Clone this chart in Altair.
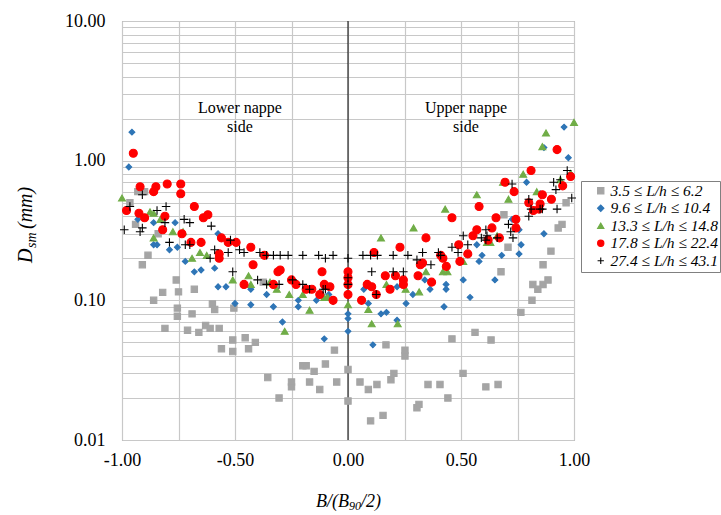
import altair as alt
import pandas as pd

series_labels = [
    "3.5 ≤ L/h ≤ 6.2",
    "9.6 ≤ L/h ≤ 10.4",
    "13.3 ≤ L/h ≤ 14.8",
    "17.8 ≤ L/h ≤ 22.4",
    "27.4 ≤ L/h ≤ 43.1",
]

gray_x = [-0.965, -0.93, -0.90, -0.94, -0.84, -0.91, -0.885, -0.86, -0.82, -0.76, -0.75, -0.68,
          -0.755, -0.755, -0.69, -0.81, -0.71, -0.66, -0.63, -0.61, -0.57, -0.60, -0.59, -0.505,
          -0.56, -0.51, -0.51, -0.455, -0.44, -0.41, -0.375, -0.355, -0.305, -0.25, -0.25, -0.20,
          -0.185, -0.15, -0.17, -0.125, -0.10, -0.05, -0.06,
          0.0, 0.0, 0.053, 0.09, 0.10, 0.128, 0.155, 0.168, 0.19, 0.203, 0.252, 0.252, 0.305,
          0.314, 0.354, 0.407, 0.442, 0.46, 0.509, 0.562, 0.61, 0.633, 0.664, 0.677, 0.708,
          0.765, 0.814, 0.818, 0.84, 0.863, 0.885, 0.863, 0.898, 0.69, 0.93, 0.947, 0.965]
gray_y = [0.50, 0.60, 0.60, 0.35, 0.30, 0.18, 0.21, 0.10, 0.114, 0.14, 0.115, 0.12,
          0.088, 0.077, 0.08, 0.063, 0.061, 0.059, 0.066, 0.063, 0.063, 0.094, 0.086, 0.088,
          0.045, 0.052, 0.043, 0.054, 0.045, 0.05, 0.135, 0.028, 0.02, 0.026, 0.024, 0.034,
          0.034, 0.031, 0.026, 0.023, 0.035, 0.026, 0.044,
          0.032, 0.019, 0.026, 0.023, 0.0137, 0.025, 0.015, 0.048, 0.027, 0.030, 0.044, 0.040, 0.017,
          0.018, 0.025, 0.025, 0.020, 0.053, 0.030, 0.059, 0.024, 0.052, 0.025, 0.16, 0.24,
          0.082, 0.10, 0.13, 0.12, 0.13, 0.14, 0.18, 0.225, 0.41, 0.33, 0.35, 0.50]

blue_x = [-0.956, -0.97, -0.93, -0.86, -0.765, -0.86, -0.845, -0.79, -0.755, -0.575, -0.72, -0.68,
          -0.65, -0.59, -0.575, -0.54, -0.43, -0.36, -0.50, -0.43, -0.33, -0.29, -0.22, -0.22,
          -0.14, -0.085, -0.105, -0.066,
          0.0, 0.0, 0.0, 0.07, 0.09, 0.11, 0.146, 0.17, 0.217, 0.217, 0.257, 0.287, 0.34, 0.363,
          0.434, 0.434, 0.425, 0.51, 0.54, 0.57, 0.58, 0.593, 0.65, 0.68, 0.726, 0.757, 0.757,
          0.766, 0.79, 0.85, 0.867, 0.867, 0.956, 0.975, 0.985]
blue_y = [1.6, 0.9, 0.38, 0.36, 0.36, 0.25, 0.25, 0.23, 0.24, 0.30, 0.19, 0.16,
          0.165, 0.17, 0.125, 0.125, 0.12, 0.11, 0.095, 0.093, 0.09, 0.07, 0.10, 0.09,
          0.10, 0.11, 0.053, 0.098,
          0.08, 0.074, 0.06, 0.12, 0.095, 0.048, 0.08, 0.082, 0.125, 0.072, 0.095, 0.11, 0.14, 0.12,
          0.13, 0.12, 0.09, 0.14, 0.105, 0.25, 0.19, 0.21, 0.14, 0.21, 0.38, 0.32, 0.215,
          0.25, 0.70, 0.58, 0.30, 1.24, 1.74, 1.05, 0.80]

green_x = [-1.0, -0.876, -0.86, -0.83, -0.775, -0.73, -0.86, -0.69, -0.655, -0.625, -0.51, -0.44,
           -0.43, -0.345, -0.315, -0.28, -0.26, -0.20, -0.17, -0.105, -0.09,
           0.0, 0.09, 0.105, 0.146, 0.17, 0.22, 0.255, 0.29, 0.315, 0.345, 0.42, 0.44, 0.43,
           0.51, 0.57, 0.615, 0.63, 0.66, 0.686, 0.71, 0.775, 0.835, 0.86, 0.876, 0.94, 1.0, 0.985]
green_y = [0.54, 0.43, 0.42, 0.38, 0.31, 0.31, 0.28, 0.20, 0.22, 0.21, 0.14, 0.15,
           0.13, 0.135, 0.12, 0.06, 0.11, 0.11, 0.085, 0.105, 0.105,
           0.093, 0.086, 0.068, 0.28, 0.13, 0.068, 0.12, 0.33, 0.115, 0.16, 0.16, 0.16, 0.45,
           0.19, 0.57, 0.26, 0.26, 0.29, 0.70, 0.53, 0.80, 0.60, 1.26, 1.58, 0.73, 1.88, 0.81]

red_x = [-0.95, -0.92, -0.86, -0.85, -0.80, -0.74, -0.74, -0.98, -0.925, -0.90, -0.81, -0.82,
         -0.735, -0.68, -0.62, -0.64, -0.695, -0.65, -0.56, -0.53, -0.495, -0.43, -0.37, -0.57,
         -0.57, -0.42, -0.46, -0.33, -0.31, -0.30, -0.25, -0.23, -0.185, -0.16, -0.115, -0.105,
         -0.08, -0.125, -0.066,
         0.0, 0.0, 0.0, 0.0, 0.06, 0.085, 0.105, 0.125, 0.115, 0.165, 0.186, 0.21, 0.23, 0.245,
         0.245, 0.31, 0.32, 0.33, 0.345, 0.37, 0.41, 0.42, 0.435, 0.46, 0.49, 0.495, 0.53, 0.553,
         0.57, 0.58, 0.62, 0.637, 0.655, 0.67, 0.695, 0.735, 0.743, 0.743, 0.80, 0.81, 0.82,
         0.845, 0.85, 0.86, 0.90, 0.925, 0.95, 0.985]
red_y = [1.13, 0.65, 0.60, 0.65, 0.68, 0.68, 0.58, 0.44, 0.42, 0.39, 0.40, 0.32,
         0.30, 0.47, 0.41, 0.39, 0.26, 0.26, 0.28, 0.26, 0.26, 0.24, 0.21, 0.20,
         0.215, 0.18, 0.13, 0.13, 0.16, 0.165, 0.14, 0.13, 0.12, 0.12, 0.16, 0.13,
         0.125, 0.11, 0.10,
         0.16, 0.145, 0.13, 0.11, 0.10, 0.13, 0.125, 0.11, 0.22, 0.15, 0.12, 0.15, 0.24, 0.14,
         0.13, 0.15, 0.18, 0.185, 0.28, 0.135, 0.21, 0.20, 0.175, 0.39, 0.25, 0.19, 0.215, 0.29,
         0.32, 0.47, 0.27, 0.33, 0.39, 0.28, 0.70, 0.60, 0.38, 0.33, 0.50, 0.85, 0.44,
         0.45, 0.49, 0.57, 0.53, 1.2, 0.66, 0.77]

black_x = [-0.965, -0.91, -0.845, -0.805, -0.81, -0.725, -0.70, -0.99, -0.92, -0.91, -0.605, -0.79,
           -0.72, -0.70, -0.52, -0.59, -0.53, -0.48, -0.46, -0.39, -0.61, -0.36, -0.51, -0.40,
           -0.36, -0.305, -0.33, -0.30, -0.265, -0.20, -0.13, -0.10, -0.066, -0.245, -0.20, -0.17,
           -0.11, -0.10,
           0.0, 0.0, 0.0, 0.066, 0.10, 0.13, 0.20, 0.265, 0.305, 0.33, 0.40, 0.41, 0.46, 0.487,
           0.53, 0.105, 0.20, 0.245, 0.367, 0.125, 0.51, 0.59, 0.61, 0.615, 0.61, 0.66, 0.71,
           0.72, 0.73, 0.726, 0.80, 0.80, 0.81, 0.85, 0.86, 0.91, 0.92, 0.925, 0.94, 0.97, 0.99]
black_y = [0.47, 0.57, 0.44, 0.47, 0.36, 0.38, 0.36, 0.32, 0.31, 0.33, 0.34, 0.26,
           0.25, 0.25, 0.27, 0.23, 0.22, 0.23, 0.22, 0.22, 0.20, 0.21, 0.16, 0.14,
           0.13, 0.13, 0.21, 0.21, 0.21, 0.21, 0.21, 0.20, 0.21, 0.14, 0.13, 0.12,
           0.12, 0.12,
           0.20, 0.145, 0.13, 0.21, 0.21, 0.21, 0.21, 0.21, 0.195, 0.22, 0.22, 0.21, 0.24, 0.22,
           0.25, 0.16, 0.16, 0.16, 0.18, 0.11, 0.29, 0.28, 0.32, 0.29, 0.27, 0.28, 0.35,
           0.31, 0.28, 0.68, 0.40, 0.53, 0.45, 0.45, 0.45, 0.70, 0.62, 0.45, 0.73, 0.85, 0.54]

x_ticks = [-1.0, -0.75, -0.5, -0.25, 0.0, 0.25, 0.5, 0.75, 1.0]
y_ticks = [0.01, 0.02, 0.03, 0.04, 0.05, 0.06, 0.07, 0.08, 0.09,
           0.1, 0.2, 0.3, 0.4, 0.5, 0.6, 0.7, 0.8, 0.9,
           1, 2, 3, 4, 5, 6, 7, 8, 9, 10]

note_x = [-0.478, -0.478, 0.522, 0.522]
note_y = [2.37, 1.73, 2.37, 1.73]
note_text = ["Lower nappe", "side", "Upper nappe", "side"]

# ---------- build tables ----------
all_x = [gray_x, blue_x, green_x, red_x, black_x]
all_y = [gray_y, blue_y, green_y, red_y, black_y]
frames = []
for i, (lab, xs, ys) in enumerate(zip(series_labels, all_x, all_y)):
    frames.append(pd.DataFrame({"x": xs, "y": ys, "series": lab, "order": i}))
df = pd.concat(frames, ignore_index=True)
notes = pd.DataFrame({"x": note_x, "y": note_y, "text": note_text})

fills = ["#a5a5a5", "#2e75b6", "#70ad47", "#ff0000", "transparent"]
strokes = ["#a5a5a5", "#2e75b6", "#70ad47", "#ff0000", "#000000"]
shapes = ["square", "diamond", "triangle-up", "circle", "M-1,0L1,0M0,-1L0,1"]
sizes = [40, 34, 48, 64, 72]

FONT = "Liberation Serif, Times New Roman, DejaVu Serif, serif"
xscale = alt.Scale(domain=[-1, 1], nice=False, zero=False)
yscale = alt.Scale(type="log", domain=[0.01, 10], nice=False)

xaxis = alt.Axis(
    values=x_ticks,
    labelExpr="abs(datum.value*2 - round(datum.value*2)) < 1e-6 ? (datum.value < 0 ? '-' : '') + format(abs(datum.value), '.2f') : ''",
    labelFlush=False, labelOverlap=False, labelPadding=11, title=None,
)
yaxis = alt.Axis(
    values=y_ticks,
    labelExpr="indexof([0.01, 0.1, 1, 10], datum.value) >= 0 ? format(datum.value, '.2f') : ''",
    labelFlush=False, labelOverlap=False, labelPadding=17, title=None,
)

leg = alt.Legend(title=None, orient="none", legendX=459, legendY=160)

points = alt.Chart(df).mark_point(filled=True, strokeWidth=1.1, opacity=1).encode(
    x=alt.X("x:Q", scale=xscale, axis=xaxis),
    y=alt.Y("y:Q", scale=yscale, axis=yaxis),
    fill=alt.Fill("series:N", scale=alt.Scale(domain=series_labels, range=fills), legend=leg),
    stroke=alt.Stroke("series:N", scale=alt.Scale(domain=series_labels, range=strokes), legend=leg),
    shape=alt.Shape("series:N", scale=alt.Scale(domain=series_labels, range=shapes), legend=leg),
    size=alt.Size("order:Q", scale=alt.Scale(type="threshold", domain=[0.5, 1.5, 2.5, 3.5], range=sizes), legend=None),
    order=alt.Order("order:Q"),
)

zero_line = alt.Chart(pd.DataFrame({"x": [0.0]})).mark_rule(color="#000000", strokeWidth=1).encode(
    x=alt.X("x:Q", scale=xscale)
)

note_layer = alt.Chart(notes).mark_text(font=FONT, fontSize=16, color="#000000", baseline="middle").encode(
    x=alt.X("x:Q", scale=xscale), y=alt.Y("y:Q", scale=yscale), text="text:N"
)

one = pd.DataFrame({"a": [0]})
def label(txt, x, y, size, angle=0, align="left", baseline="middle"):
    return alt.Chart(one).mark_text(
        text=txt, font=FONT, fontSize=size, fontStyle="italic", color="#000000",
        align=align, baseline=baseline, angle=angle,
    ).encode(x=alt.value(x), y=alt.value(y))

ytitle = (label("D", -96, 242, 20, angle=270)
          + label("sm", -90, 227, 14, angle=270)
          + label("(mm)", -96, 208, 20, angle=270))
xtitle = (label("B/(B", 194, 481, 18)
          + label("90", 227, 485, 12)
          + label("/2)", 239, 481, 18))

chart = alt.layer(zero_line, points, note_layer, ytitle, xtitle).properties(
    width=452, height=419,
    autosize=alt.AutoSizeParams(type="none"),
    padding={"left": 122, "top": 21, "right": 147, "bottom": 75},
).configure_view(
    stroke="#8c8c8c", strokeWidth=1
).configure_axis(
    domain=False, ticks=False, grid=True, gridColor="#c8c8c8", gridWidth=1.2,
    labelFont=FONT, labelFontSize=18, labelColor="#000000",
).configure_legend(
    strokeColor="#808080", fillColor="#ffffff", padding=2,
    labelFont=FONT, labelFontStyle="italic", labelFontSize=15.5, labelColor="#000000", labelLimit=0,
    symbolSize=40, symbolStrokeWidth=1.1, rowPadding=0.5, symbolOffset=10, labelOffset=2,
)

chart.save("out.html", embed_options={"renderer": "svg", "actions": False})
